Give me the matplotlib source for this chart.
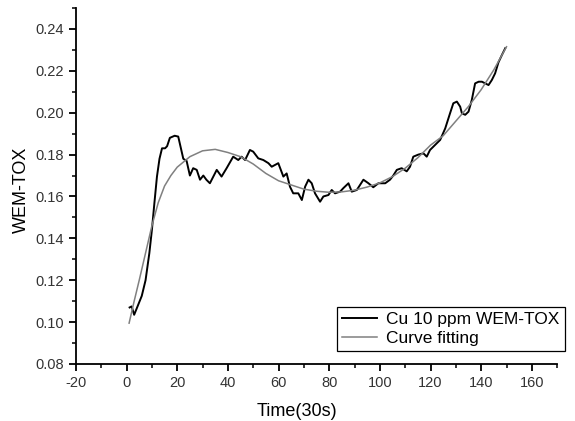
"""WEM-TOX response of Cu 10 ppm over time, with fitted curve."""

import matplotlib
matplotlib.use("Agg")
import matplotlib.pyplot as plt
from matplotlib.ticker import MultipleLocator

plt.rcParams["font.family"] = ["Liberation Sans", "DejaVu Sans"]
plt.rcParams["axes.unicode_minus"] = False

time_meas = [1.2, 2.0, 3.0, 4.5, 6.0, 7.5, 9.0, 10.0, 11.0, 12.0, 13.0, 14.0,
             15.2, 16.0, 17.1, 19.0, 20.4, 22.4, 23.7, 25.0, 26.3, 27.7, 29.0,
             30.3, 31.5, 32.9, 35.6, 37.5, 39.5, 42.1, 44.1, 45.4, 46.8, 48.7,
             50.0, 52.0, 54.0, 56.0, 57.3, 59.9, 61.9, 63.2, 64.5, 65.8, 67.8,
             69.2, 70.5, 71.8, 73.1, 74.4, 76.4, 77.7, 79.7, 81.0, 82.3, 84.3,
             85.6, 87.6, 88.9, 90.9, 93.5, 95.5, 97.4, 99.4, 102.1, 104.0,
             105.3, 106.7, 108.6, 110.6, 111.9, 113.2, 115.2, 117.2, 118.5,
             119.8, 121.8, 123.8, 125.8, 127.7, 129.0, 130.4, 131.7, 132.4,
             133.7, 135.0, 136.3, 137.6, 139.0, 140.3, 141.6, 142.9, 144.2,
             145.5, 146.8, 148.2, 149.5]
wem_meas = [0.1070, 0.1075, 0.1035, 0.1080, 0.1125, 0.1200, 0.1330, 0.1440,
            0.1570, 0.1695, 0.1780, 0.1830, 0.1830, 0.1840, 0.1880, 0.1890,
            0.1886, 0.1780, 0.1770, 0.1700, 0.1735, 0.1727, 0.1680, 0.1700,
            0.1680, 0.1663, 0.1727, 0.1695, 0.1735, 0.1790, 0.1774, 0.1790,
            0.1774, 0.1822, 0.1814, 0.1782, 0.1774, 0.1759, 0.1742, 0.1759,
            0.1695, 0.1710, 0.1647, 0.1615, 0.1615, 0.1583, 0.1647, 0.1680,
            0.1663, 0.1615, 0.1575, 0.1600, 0.1607, 0.1631, 0.1615, 0.1623,
            0.1640, 0.1663, 0.1623, 0.1631, 0.1680, 0.1663, 0.1644, 0.1663,
            0.1663, 0.1680, 0.1700, 0.1727, 0.1735, 0.1720, 0.1742, 0.1790,
            0.1800, 0.1806, 0.1790, 0.1822, 0.1846, 0.1870, 0.1925, 0.1997,
            0.2045, 0.2053, 0.2029, 0.1997, 0.1990, 0.2005, 0.2061, 0.2140,
            0.2148, 0.2148, 0.2140, 0.2132, 0.2156, 0.2188, 0.2240, 0.2276,
            0.2308]

# fitted curve
time_fit = [1, 3, 5, 7.5, 10, 12.5, 15, 17.5, 20, 25, 30, 35, 40, 45, 50, 55,
            60, 65, 70, 75, 80, 85, 90, 95, 100, 105, 110, 115, 120, 125, 130,
            135, 140, 145, 150]
wem_fit = [0.0995, 0.1100, 0.1200, 0.1330, 0.1460, 0.1570, 0.1650, 0.1700,
           0.1740, 0.1790, 0.1818, 0.1825, 0.1810, 0.1790, 0.1755, 0.1710,
           0.1675, 0.1655, 0.1635, 0.1625, 0.1620, 0.1622, 0.1630, 0.1645,
           0.1665, 0.1695, 0.1735, 0.1785, 0.1845, 0.1890, 0.1960, 0.2030,
           0.2110, 0.2205, 0.2315]

fig = plt.figure(figsize=(5.75, 4.21), dpi=100)
ax = fig.add_axes([0.132, 0.1354, 0.837, 0.8456])

ax.plot(time_meas, wem_meas, color="black", lw=1.4, label="Cu 10 ppm WEM-TOX")
ax.plot(time_fit, wem_fit, color="#808080", lw=1.1, label="Curve fitting")

ax.set_xlim(-20, 170)
ax.set_ylim(0.08, 0.25)
ax.xaxis.set_major_locator(MultipleLocator(20))
ax.xaxis.set_minor_locator(MultipleLocator(10))
ax.yaxis.set_major_locator(MultipleLocator(0.02))
ax.yaxis.set_minor_locator(MultipleLocator(0.01))
ax.yaxis.set_major_formatter(lambda v, _: f"{v:.2f}")

for side in ("top", "right"):
    ax.spines[side].set_visible(False)
for side in ("left", "bottom"):
    ax.spines[side].set_linewidth(1.3)
ax.tick_params(which="major", direction="out", length=5, width=1.3,
               labelsize=10.5, labelcolor="#333333")
ax.tick_params(which="minor", direction="out", length=3, width=1.1)

ax.set_xlabel("Time(30s)", fontsize=13)
ax.set_ylabel("WEM-TOX", fontsize=13)
ax.xaxis.set_label_coords(0.46, -0.11)
ax.yaxis.set_label_coords(-0.096, 0.49)

leg = ax.legend(loc="upper left", bbox_to_anchor=(0.586, 0.2715),
                bbox_transform=fig.transFigure, borderaxespad=0,
                fancybox=False, framealpha=1, edgecolor="black",
                fontsize=12.5, handlelength=2.0, handletextpad=0.55,
                borderpad=0.3, labelspacing=0.2)
leg.get_frame().set_linewidth(0.9)

fig.savefig("out.png", dpi=100)
